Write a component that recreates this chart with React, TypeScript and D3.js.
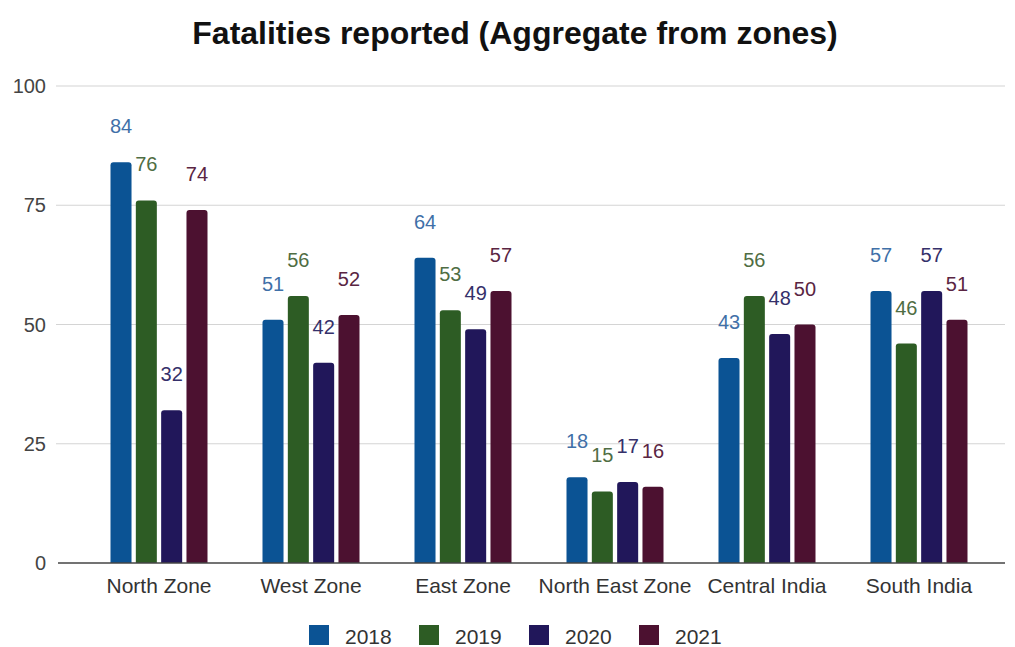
import React from "react";
import * as d3 from "d3";

// Fatalities per zone, one array per year
const categories = ["North Zone", "West Zone", "East Zone", "North East Zone", "Central India", "South India"];
const years = ["2018", "2019", "2020", "2021"];
const values2018 = [84, 51, 64, 18, 43, 57];
const values2019 = [76, 56, 53, 15, 56, 46];
const values2020 = [32, 42, 49, 17, 48, 57];
const values2021 = [74, 52, 57, 16, 50, 51];
const yTicks = [0, 25, 50, 75, 100];

const seriesValues = [values2018, values2019, values2020, values2021];
const barColors = ["#0b5394", "#2d5c24", "#21175a", "#4c1130"];
const labelColors = ["#3f70a8", "#4f6d43", "#35306a", "#5a2542"];

const W = 1015;
const H = 647;
const FONT = "'Liberation Sans', Arial, Helvetica, sans-serif";

function roundedTopBar(x: number, y: number, w: number, h: number, r: number) {
  const rr = Math.min(r, h, w / 2);
  return `M${x},${y + h}V${y + rr}Q${x},${y} ${x + rr},${y}H${x + w - rr}Q${x + w},${y} ${x + w},${y + rr}V${y + h}Z`;
}

export default function App() {
  const y = d3.scaleLinear().domain([0, 100]).range([563, 86]);
  const x0 = d3.scaleBand<string>().domain(categories).range([83, 995]).padding(0);
  const x1 = d3.scaleBand<string>().domain(years).range([-48.5, 48.5]).paddingInner(0.17).paddingOuter(0);

  const gridLeft = 56;
  const gridRight = 1005;

  return (
    <svg width={W} height={H} style={{ position: "absolute", left: 0, top: 0, background: "#fff" }}>
      <rect width={W} height={H} fill="#fff" />
      <text x={515} y={44} textAnchor="middle" fontFamily={FONT} fontWeight="bold" fontSize={32} fill="#111">
        Fatalities reported (Aggregate from zones)
      </text>

      {yTicks.map((t) => (
        <g key={t}>
          {t !== 0 && (
            <line x1={gridLeft} x2={gridRight} y1={y(t)} y2={y(t)} stroke="#d4d4d4" strokeWidth={1.2} />
          )}
          <text x={46} y={y(t)} dy="0.35em" textAnchor="end" fontFamily={FONT} fontSize={20} fill="#444">
            {t}
          </text>
        </g>
      ))}

      {categories.map((c, ci) => {
        const cx = (x0(c) ?? 0) + x0.bandwidth() / 2;
        return (
          <g key={c}>
            {years.map((yr, si) => {
              const v = seriesValues[si][ci];
              const bx = cx + (x1(yr) ?? 0);
              const bw = x1.bandwidth();
              const top = y(v);
              return (
                <g key={yr}>
                  <path d={roundedTopBar(bx, top, bw, y(0) - top, 3)} fill={barColors[si]} />
                  <text
                    x={bx + bw / 2}
                    y={top - 29}
                    textAnchor="middle"
                    fontFamily={FONT}
                    fontSize={20}
                    fill={labelColors[si]}
                  >
                    {v}
                  </text>
                </g>
              );
            })}
            <text x={cx} y={593} textAnchor="middle" fontFamily={FONT} fontSize={21} fill="#333">
              {c}
            </text>
          </g>
        );
      })}

      <line x1={58} x2={gridRight} y1={y(0)} y2={y(0)} stroke="#444" strokeWidth={1.3} />

      {years.map((yr, i) => {
        const lx = 309 + i * 110;
        return (
          <g key={yr}>
            <rect x={lx} y={625} width={20} height={20} fill={barColors[i]} />
            <text x={lx + 36} y={644} fontFamily={FONT} fontSize={21} fill="#333">
              {yr}
            </text>
          </g>
        );
      })}
    </svg>
  );
}
